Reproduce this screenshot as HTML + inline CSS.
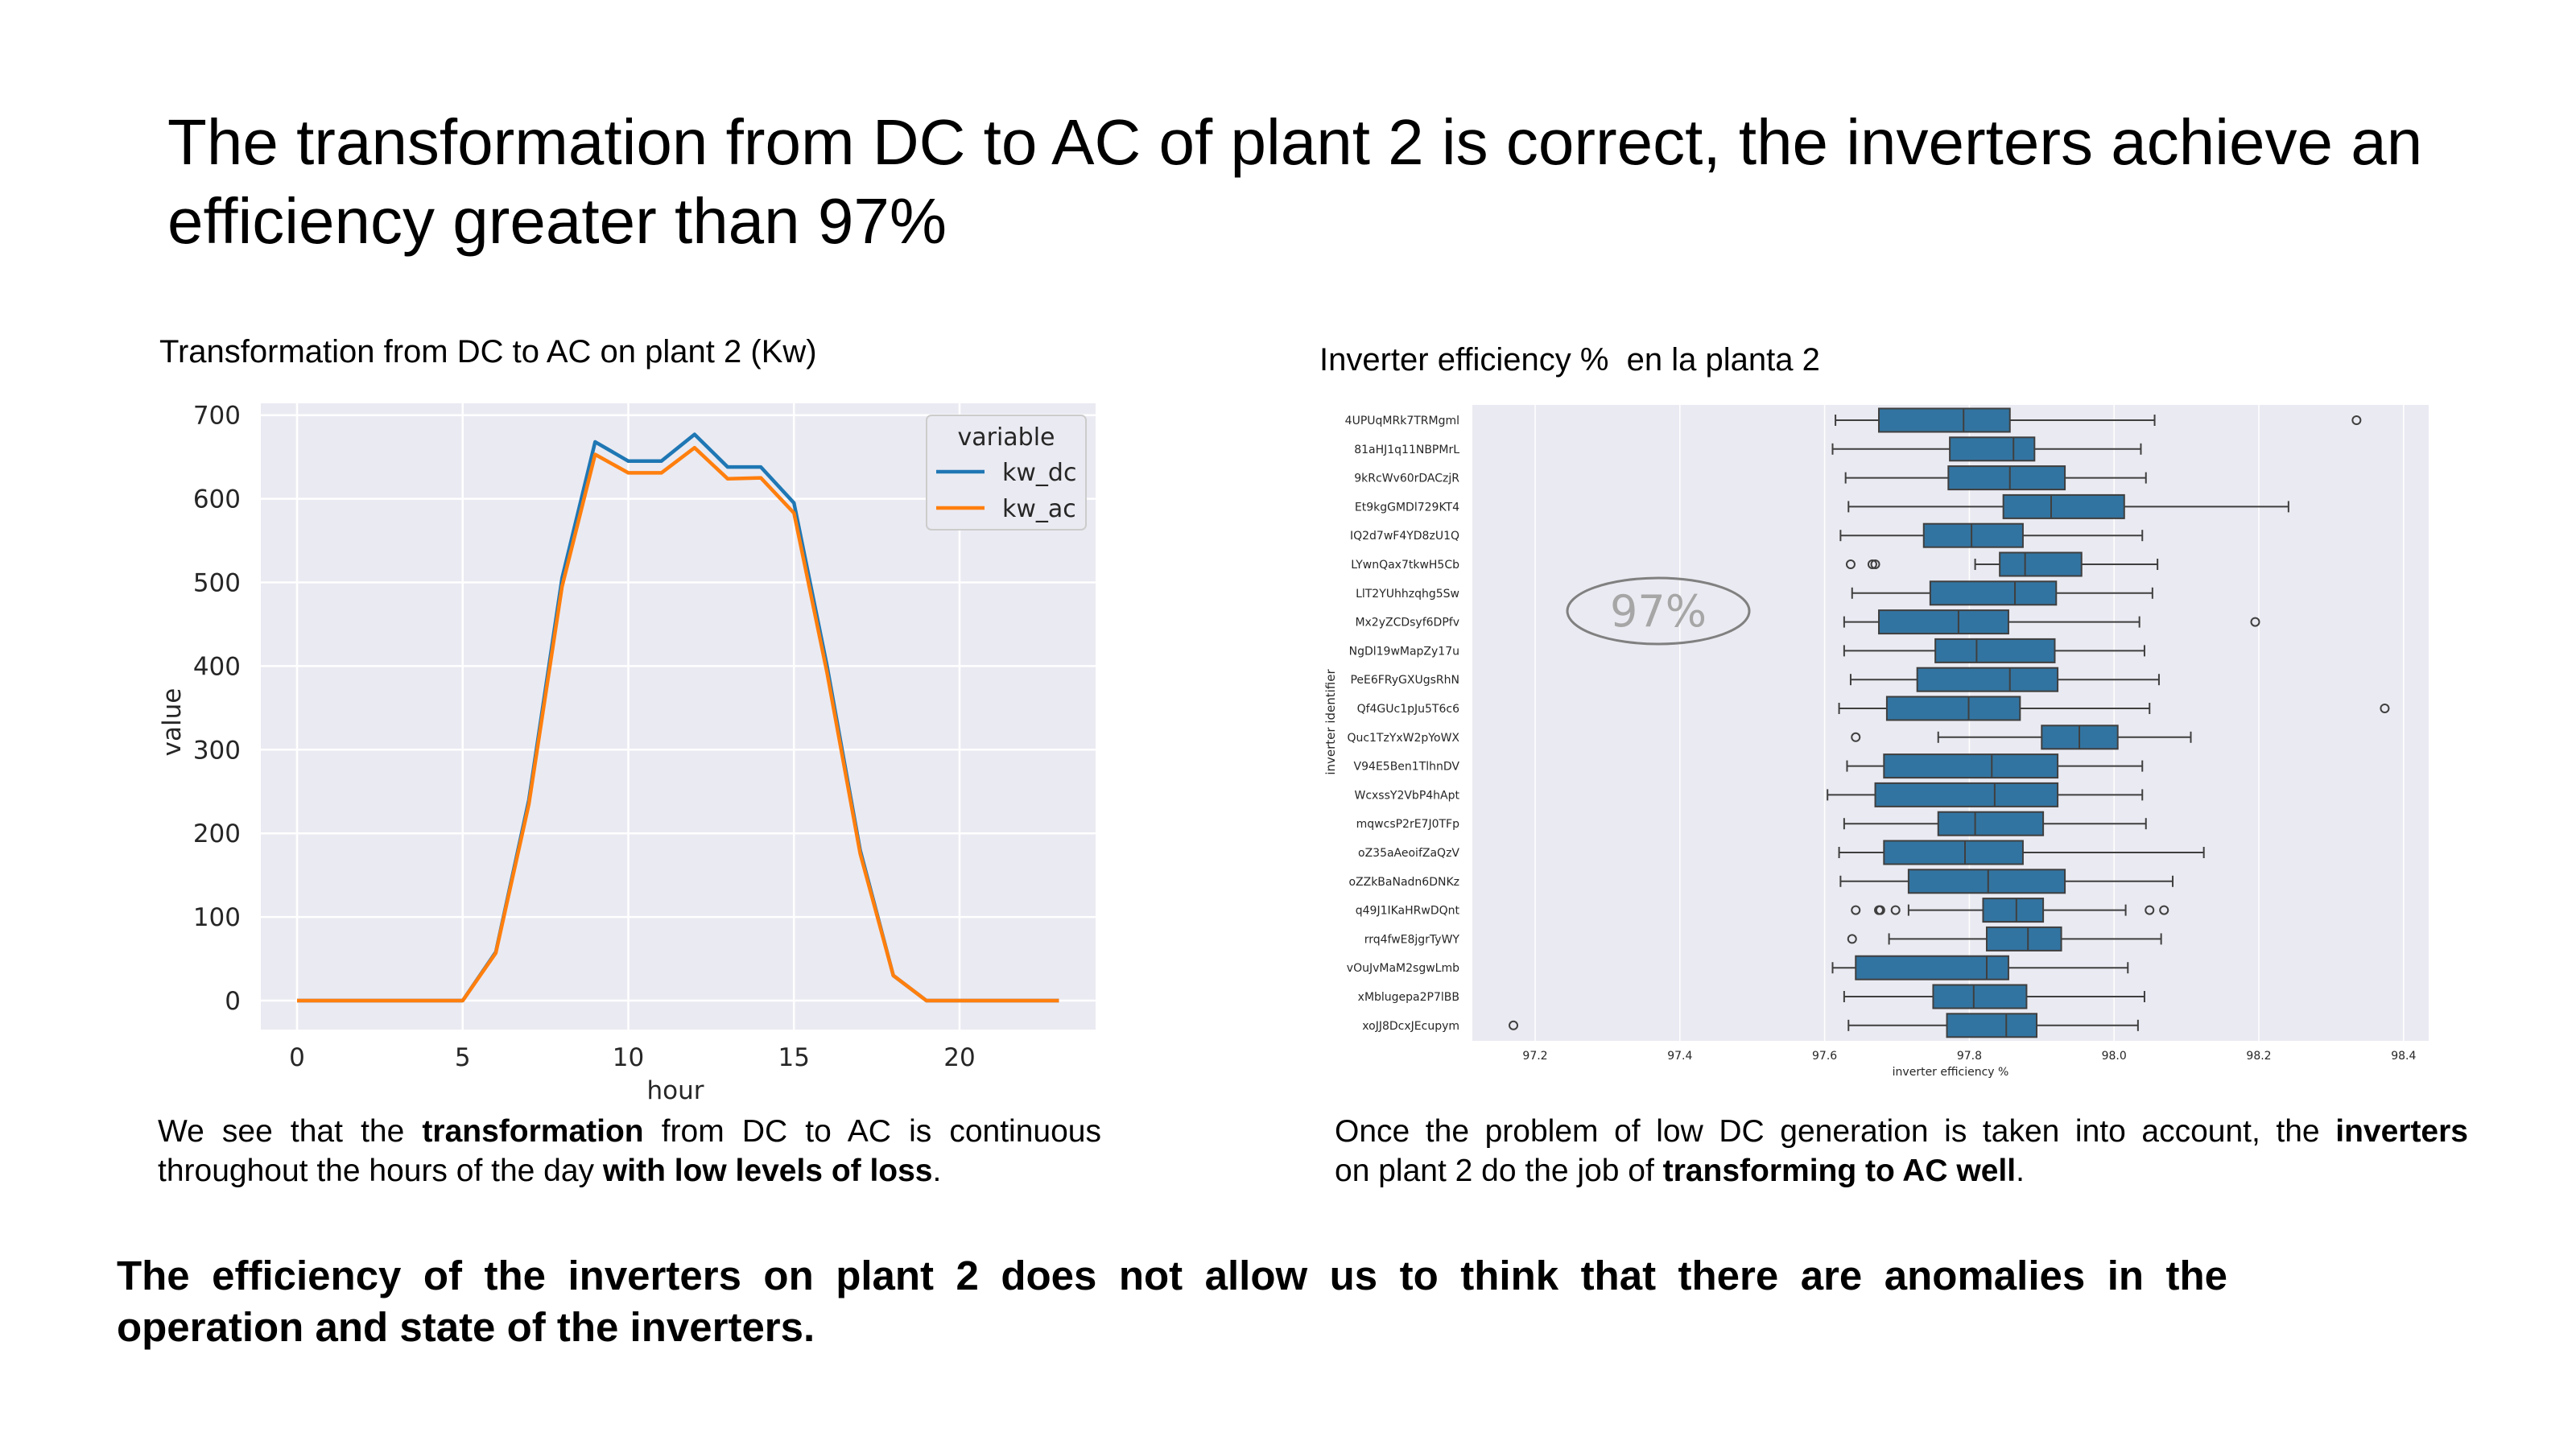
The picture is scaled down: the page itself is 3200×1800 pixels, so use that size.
<!DOCTYPE html>
<html><head><meta charset="utf-8">
<style>
body{margin:0;background:#fff;}
#page{position:relative;width:3200px;height:1800px;overflow:hidden;background:#fff;font-family:"Liberation Sans",sans-serif;color:#000;}
.t{position:absolute;margin:0;}
.p{position:absolute;text-align:justify;text-align-last:left;font-size:39px;line-height:49px;margin:0;}
svg text{font-family:"DejaVu Sans","Liberation Sans",sans-serif;}
</style></head><body>
<div id="page">
<h1 class="t" style="left:208px;top:128px;font-size:80px;font-weight:normal;line-height:98px;width:2950px;">The transformation from DC to AC of plant 2 is correct, the inverters achieve an efficiency greater than 97%</h1>
<div class="t" style="left:198px;top:415px;font-size:40px;">Transformation from DC to AC on plant 2 (Kw)</div>
<div class="t" style="left:1639px;top:425px;font-size:40px;white-space:pre;">Inverter efficiency %  en la planta 2</div>
<p class="p" style="left:196px;top:1381px;width:1172px;">We see that the <b>transformation</b> from DC to AC is continuous throughout the hours of the day <b>with low levels of loss</b>.</p>
<p class="p" style="left:1658px;top:1381px;width:1408px;">Once the problem of low DC generation is taken into account, the <b>inverters</b> <span style="white-space:nowrap">on plant 2</span> do the job of <b>transforming to AC well</b>.</p>
<p class="p" style="left:145px;top:1553px;width:2622px;font-size:51px;line-height:64px;font-weight:bold;">The efficiency of the inverters on plant 2 does not allow us to think that there are anomalies in the <span style="white-space:nowrap">operation and</span> state of the inverters.</p>
<svg id="svg" width="3200" height="1800" style="position:absolute;left:0;top:0;"></svg>
</div>
<script>
// ---- line chart data ----
const hours=[0,1,2,3,4,5,6,7,8,9,10,11,12,13,14,15,16,17,18,19,20,21,22,23];
const kwDc=[0,0,0,0,0,0,58,240,505,668,645,645,677,638,638,595,400,180,30,0,0,0,0,0];
const kwAc=[0,0,0,0,0,0,57,235,495,653,631,631,661,624,625,583,392,176,30,0,0,0,0,0];
const yTicks=[0,100,200,300,400,500,600,700];
const xTicks=[0,5,10,15,20];
// ---- box plot data ----
const inverters=["4UPUqMRk7TRMgml","81aHJ1q11NBPMrL","9kRcWv60rDACzjR","Et9kgGMDl729KT4","IQ2d7wF4YD8zU1Q","LYwnQax7tkwH5Cb","LlT2YUhhzqhg5Sw","Mx2yZCDsyf6DPfv","NgDl19wMapZy17u","PeE6FRyGXUgsRhN","Qf4GUc1pJu5T6c6","Quc1TzYxW2pYoWX","V94E5Ben1TlhnDV","WcxssY2VbP4hApt","mqwcsP2rE7J0TFp","oZ35aAeoifZaQzV","oZZkBaNadn6DNKz","q49J1IKaHRwDQnt","rrq4fwE8jgrTyWY","vOuJvMaM2sgwLmb","xMblugepa2P7lBB","xoJJ8DcxJEcupym"];
const whiskLo=[97.615,97.611,97.629,97.633,97.622,97.808,97.638,97.627,97.627,97.636,97.620,97.757,97.631,97.604,97.627,97.620,97.622,97.716,97.689,97.611,97.627,97.633];
const q1=[97.675,97.773,97.771,97.847,97.737,97.842,97.746,97.675,97.753,97.728,97.686,97.900,97.682,97.670,97.757,97.682,97.716,97.819,97.824,97.643,97.750,97.769];
const med=[97.792,97.861,97.856,97.913,97.803,97.877,97.863,97.785,97.810,97.856,97.799,97.952,97.831,97.835,97.808,97.794,97.826,97.865,97.881,97.824,97.806,97.851];
const q3=[97.856,97.890,97.932,98.014,97.874,97.955,97.920,97.854,97.918,97.922,97.870,98.005,97.922,97.922,97.902,97.874,97.932,97.902,97.927,97.854,97.879,97.893];
const whiskHi=[98.056,98.037,98.044,98.241,98.039,98.060,98.053,98.035,98.042,98.062,98.049,98.106,98.039,98.039,98.044,98.124,98.081,98.016,98.065,98.019,98.042,98.033];
const outliers=[[98.335],[],[],[],[],[97.636,97.666,97.670],[],[98.195],[],[],[98.374],[97.643],[],[],[],[],[],[97.643,97.675,97.677,97.698,98.049,98.069],[97.638],[],[],[97.170]];
const effTicks=[97.2,97.4,97.6,97.8,98.0,98.2,98.4];

const NS="http://www.w3.org/2000/svg";
const svg=document.getElementById('svg');
function mk(tag,attrs,parent,txt){const e=document.createElementNS(NS,tag);for(const k in attrs)e.setAttribute(k,attrs[k]);if(txt!==undefined)e.textContent=txt;(parent||svg).appendChild(e);return e;}

// ===== Line chart =====
const L={x0:324,x1:1361,y0:501,y1:1279};
const hx=h=>369+h*41.15;
const vy=v=>1243-v*1.039;
let e=mk('rect',{x:L.x0,y:L.y0,width:L.x1-L.x0,height:L.y1-L.y0,fill:'#eaeaf2'});


yTicks.forEach(t=>{
  e=mk('line',{x1:L.x0,x2:L.x1,y1:vy(t),y2:vy(t),stroke:'#fff','stroke-width':2.5});
  
  
  e=mk('text',{x:299,y:vy(t)+11,'text-anchor':'end','font-size':31,fill:'#262626'},null,String(t));
  
  
});
xTicks.forEach(t=>{
  e=mk('line',{x1:hx(t),x2:hx(t),y1:L.y0,y2:L.y1,stroke:'#fff','stroke-width':2.5});
  
  
  e=mk('text',{x:hx(t),y:1324,'text-anchor':'middle','font-size':31,fill:'#262626'},null,String(t));
  
  
});
e=mk('text',{x:839,y:1365,'text-anchor':'middle','font-size':31,fill:'#262626'},null,'hour');


e=mk('text',{x:0,y:0,'text-anchor':'middle','font-size':31,fill:'#262626',transform:'translate(224,897) rotate(-90)'},null,'value');


function line(arr,col,name){
  const d=arr.map((v,i)=>(i?'L':'M')+hx(hours[i]).toFixed(1)+' '+vy(v).toFixed(1)).join(' ');
  const p=mk('path',{d:d,fill:'none',stroke:col,'stroke-width':4.5,'stroke-linejoin':'round'});
  
  
}
line(kwDc,'#1f77b4','kw-dc-line');
line(kwAc,'#ff7f0e','kw-ac-line');
// legend
const lg=mk('g',{});


mk('rect',{x:1151,y:516,width:198,height:142,rx:6,fill:'#eaeaf2',stroke:'#cccccc','stroke-width':2},lg);
mk('text',{x:1250,y:553,'text-anchor':'middle','font-size':30,fill:'#262626'},lg,'variable');
e=mk('line',{x1:1163,x2:1223,y1:586,y2:586,stroke:'#1f77b4','stroke-width':4.5},lg);


mk('text',{x:1245,y:597,'font-size':30,fill:'#262626'},lg,'kw_dc');
e=mk('line',{x1:1163,x2:1223,y1:631,y2:631,stroke:'#ff7f0e','stroke-width':4.5},lg);


mk('text',{x:1245,y:642,'font-size':30,fill:'#262626'},lg,'kw_ac');

// ===== Box plot =====
const B={x0:1829,x1:3017,y0:503,y1:1293};
const ex=v=>1907+(v-97.2)*899;
const ry=i=>522+i*35.8;
e=mk('rect',{x:B.x0,y:B.y0,width:B.x1-B.x0,height:B.y1-B.y0,fill:'#eaeaf2'});


effTicks.forEach(t=>{
  e=mk('line',{x1:ex(t),x2:ex(t),y1:B.y0,y2:B.y1,stroke:'#fff','stroke-width':1.5});
  
  
  e=mk('text',{x:ex(t),y:1316,'text-anchor':'middle','font-size':14,fill:'#262626'},null,t.toFixed(1));
  
  
});
e=mk('text',{x:2423,y:1336,'text-anchor':'middle','font-size':14,fill:'#262626'},null,'inverter efficiency %');


e=mk('text',{x:0,y:0,'text-anchor':'middle','font-size':15,fill:'#262626',transform:'translate(1658,897) rotate(-90)'},null,'inverter identifier');


inverters.forEach((n,i)=>{
  const y=ry(i),h=29;
  e=mk('text',{x:1813,y:y+5,'text-anchor':'end','font-size':14,fill:'#262626'},null,n);
  
  
  const g=mk('g',{});
  
  
  mk('line',{x1:ex(whiskLo[i]),x2:ex(q1[i]),y1:y,y2:y,stroke:'#3f3f3f','stroke-width':2},g);
  mk('line',{x1:ex(q3[i]),x2:ex(whiskHi[i]),y1:y,y2:y,stroke:'#3f3f3f','stroke-width':2},g);
  mk('line',{x1:ex(whiskLo[i]),x2:ex(whiskLo[i]),y1:y-7,y2:y+7,stroke:'#3f3f3f','stroke-width':2},g);
  mk('line',{x1:ex(whiskHi[i]),x2:ex(whiskHi[i]),y1:y-7,y2:y+7,stroke:'#3f3f3f','stroke-width':2},g);
  mk('rect',{x:ex(q1[i]),y:y-h/2,width:ex(q3[i])-ex(q1[i]),height:h,fill:'#3274a1',stroke:'#3f3f3f','stroke-width':2},g);
  mk('line',{x1:ex(med[i]),x2:ex(med[i]),y1:y-h/2,y2:y+h/2,stroke:'#3f3f3f','stroke-width':2},g);
  outliers[i].forEach(o=>{
    const c=mk('circle',{cx:ex(o),cy:y,r:5,fill:'none',stroke:'#3f3f3f','stroke-width':2},g);
    
    
  });
});
e=mk('ellipse',{cx:2060,cy:759,rx:113,ry:41,fill:'none',stroke:'#808080','stroke-width':3});


e=mk('text',{x:2060,y:778,'text-anchor':'middle','font-size':54,fill:'#a6a6a6','font-family':'Liberation Sans'},null,'97%');


</script>
</body></html>
